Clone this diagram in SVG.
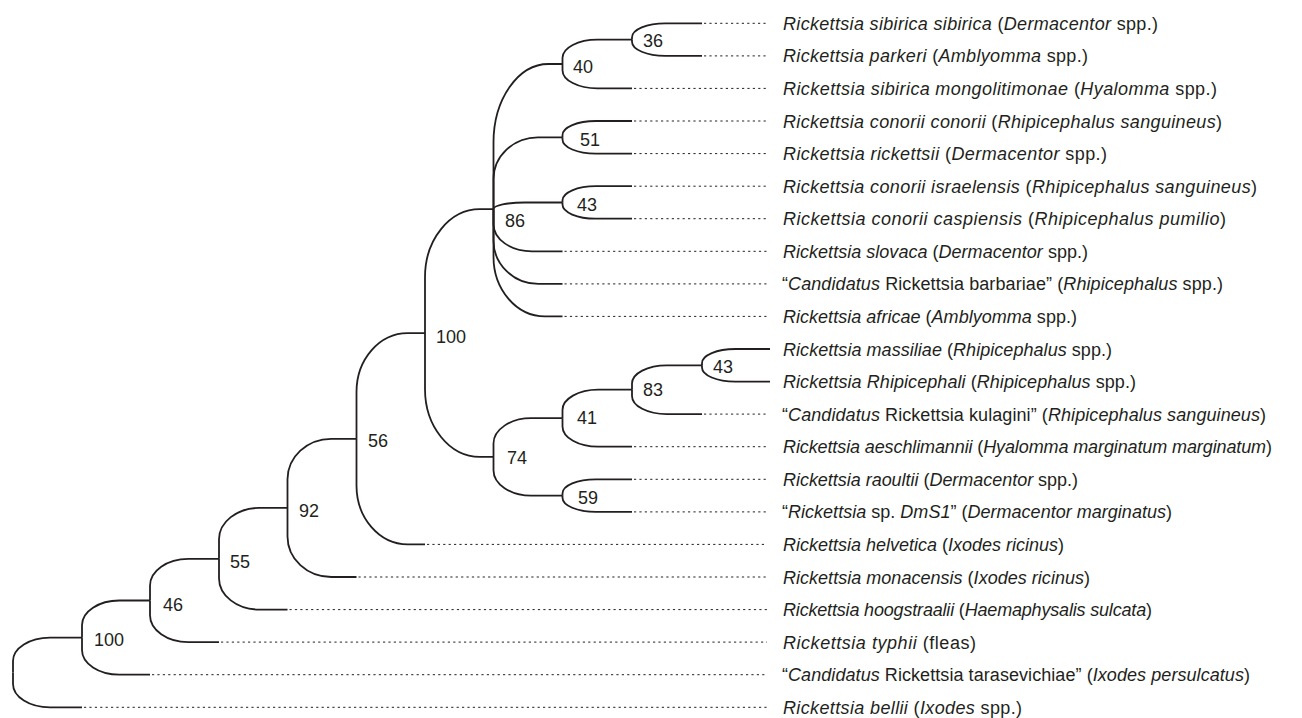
<svg xmlns="http://www.w3.org/2000/svg" width="1302" height="718" viewBox="0 0 1302 718">
<style>
.br{fill:none;stroke:#231f20;stroke-width:1.8;stroke-linecap:butt}
.dt{fill:none;stroke:#231f20;stroke-width:1;stroke-dasharray:2.2 3.2}
text{font-family:"Liberation Sans",Arial,sans-serif;font-size:18px;fill:#231f20}
.i{font-style:italic}
</style>
<rect width="1302" height="718" fill="#ffffff"/>
<g id="connectors">
<path class="br" d="M13 672.5 V661.1 A37 23.5 0 0 1 50 637.6 H82"/>
<path class="br" d="M13 672.5 V683.9 A37 23.4 0 0 0 50 707.3 H82"/>
<path class="br" d="M82 637.6 V625.1 A37.4 24.6 0 0 1 119.4 600.5 H150"/>
<path class="br" d="M82 637.6 V650.1 A37.4 24.6 0 0 0 119.4 674.7 H150"/>
<path class="br" d="M150 600.5 V585.65 A38.3 26.85 0 0 1 188.3 558.8 H219"/>
<path class="br" d="M150 600.5 V615.3 A38.3 26.8 0 0 0 188.3 642.1 H219"/>
<path class="br" d="M219 558.8 V539.35 A40.2 31.45 0 0 1 259.2 507.9 H287.5"/>
<path class="br" d="M219 558.8 V578.2 A40.2 31.4 0 0 0 259.2 609.6 H287.5"/>
<path class="br" d="M287.5 507.9 V479.35 A43.8 40.55 0 0 1 331.3 438.8 H356.5"/>
<path class="br" d="M287.5 507.9 V536.45 A43.8 40.55 0 0 0 331.3 577 H356.5"/>
<path class="br" d="M356.5 438.8 V391.95 A51.1 58.85 0 0 1 407.6 333.1 H425"/>
<path class="br" d="M356.5 438.8 V485.6 A51.1 58.8 0 0 0 407.6 544.4 H425"/>
<path class="br" d="M425 333.1 V277.15 A54.8 67.95 0 0 1 479.8 209.2 H493.5"/>
<path class="br" d="M425 333.1 V389 A54.8 67.9 0 0 0 479.8 456.9 H493.5"/>
<path class="br" d="M493.5 209.2 V142.6 A55 78.6 0 0 1 548.5 64 H562.5"/>
<path class="br" d="M493.5 209.2 V179.25 A44.4 41.95 0 0 1 537.9 137.3 H562.5"/>
<path class="br" d="M493.5 209.2 A31.3 6.7 0 0 1 524.8 202.5 H562.5"/>
<path class="br" d="M493.5 209.2 V224.25 A38.4 27.05 0 0 0 531.9 251.3 H562.5"/>
<path class="br" d="M493.5 209.2 V240.55 A44.9 43.35 0 0 0 538.4 283.9 H562.5"/>
<path class="br" d="M493.5 209.2 V256.8 A51.4 59.6 0 0 0 544.9 316.4 H562.5"/>
<path class="br" d="M562.5 64 V57.8 A34.9 18.2 0 0 1 597.4 39.6 H632"/>
<path class="br" d="M562.5 64 V70.2 A34.9 18.2 0 0 0 597.4 88.4 H632"/>
<path class="br" d="M632 39.6 V37.45 A33.3 14.15 0 0 1 665.3 23.3 H702"/>
<path class="br" d="M632 39.6 V41.75 A33.3 14.15 0 0 0 665.3 55.9 H702"/>
<path class="br" d="M562.5 137.3 V135.15 A33.3 14.15 0 0 1 595.8 121 H632"/>
<path class="br" d="M562.5 137.3 V139.45 A33.3 14.15 0 0 0 595.8 153.6 H632"/>
<path class="br" d="M562.5 202.5 V200.35 A33.3 14.15 0 0 1 595.8 186.2 H632"/>
<path class="br" d="M562.5 202.5 V204.6 A33.2 14.1 0 0 0 595.7 218.7 H632"/>
<path class="br" d="M493.5 456.9 V443.55 A37.7 25.35 0 0 1 531.2 418.2 H562.5"/>
<path class="br" d="M493.5 456.9 V470.25 A37.7 25.35 0 0 0 531.2 495.6 H562.5"/>
<path class="br" d="M562.5 418.2 V409.95 A35.7 20.25 0 0 1 598.2 389.7 H632"/>
<path class="br" d="M562.5 418.2 V426.45 A35.7 20.25 0 0 0 598.2 446.7 H632"/>
<path class="br" d="M632 389.7 V383.5 A34.9 18.2 0 0 1 666.9 365.3 H702"/>
<path class="br" d="M632 389.7 V395.9 A34.9 18.2 0 0 0 666.9 414.1 H702"/>
<path class="br" d="M702 365.3 V363.15 A33.3 14.15 0 0 1 735.3 349 H770"/>
<path class="br" d="M702 365.3 V367.45 A33.3 14.15 0 0 0 735.3 381.6 H770"/>
<path class="br" d="M562.5 495.6 V493.45 A33.3 14.15 0 0 1 595.8 479.3 H632"/>
<path class="br" d="M562.5 495.6 V497.75 A33.3 14.15 0 0 0 595.8 511.9 H632"/>
<path class="dt" d="M704 23.3 H767 M704 55.9 H767 M634 88.4 H767 M634 121 H767 M634 153.6 H767 M634 186.2 H767 M634 218.7 H767 M564.5 251.3 H767 M564.5 283.9 H767 M564.5 316.4 H767 M704 414.1 H767 M634 446.7 H767 M634 479.3 H767 M634 511.9 H767 M427 544.4 H767 M358.5 577 H767 M289.5 609.6 H767 M221 642.1 H767 M152 674.7 H767 M84 707.3 H767"/>
</g>
<g id="leaf-sibirica-sibirica"><text x="783" y="29.8" textLength="375" lengthAdjust="spacing"><tspan class="i">Rickettsia sibirica sibirica</tspan> (<tspan class="i">Dermacentor</tspan> spp.)</text></g>
<g id="leaf-parkeri"><text x="783" y="62.4" textLength="305" lengthAdjust="spacing"><tspan class="i">Rickettsia parkeri</tspan> (<tspan class="i">Amblyomma</tspan> spp.)</text></g>
<g id="leaf-mongolitimonae"><text x="783" y="94.9" textLength="434" lengthAdjust="spacing"><tspan class="i">Rickettsia sibirica</tspan><tspan class="i" dx="5">mongolitimonae</tspan> (<tspan class="i">Hyalomma</tspan> spp.)</text></g>
<g id="leaf-conorii-conorii"><text x="783" y="127.5" textLength="439" lengthAdjust="spacing"><tspan class="i">Rickettsia conorii conorii</tspan> (<tspan class="i">Rhipicephalus sanguineus</tspan>)</text></g>
<g id="leaf-rickettsii"><text x="783" y="160.1" textLength="324" lengthAdjust="spacing"><tspan class="i">Rickettsia rickettsii</tspan> (<tspan class="i">Dermacentor</tspan> spp.)</text></g>
<g id="leaf-israelensis"><text x="783" y="192.7" textLength="474" lengthAdjust="spacing"><tspan class="i">Rickettsia conorii israelensis</tspan> (<tspan class="i">Rhipicephalus sanguineus</tspan>)</text></g>
<g id="leaf-caspiensis"><text x="783" y="225.2" textLength="443" lengthAdjust="spacing"><tspan class="i">Rickettsia conorii caspiensis</tspan> (<tspan class="i">Rhipicephalus pumilio</tspan>)</text></g>
<g id="leaf-slovaca"><text x="783" y="257.8" textLength="305" lengthAdjust="spacing"><tspan class="i">Rickettsia slovaca</tspan> (<tspan class="i">Dermacentor</tspan> spp.)</text></g>
<g id="leaf-barbariae"><text x="782" y="290.4" textLength="441" lengthAdjust="spacing">“<tspan class="i">Candidatus</tspan> Rickettsia barbariae” (<tspan class="i">Rhipicephalus</tspan> spp.)</text></g>
<g id="leaf-africae"><text x="783" y="322.9" textLength="294" lengthAdjust="spacing"><tspan class="i">Rickettsia africae</tspan> (<tspan class="i">Amblyomma</tspan> spp.)</text></g>
<g id="leaf-massiliae"><text x="783" y="355.5" textLength="329" lengthAdjust="spacing"><tspan class="i">Rickettsia massiliae</tspan> (<tspan class="i">Rhipicephalus</tspan> spp.)</text></g>
<g id="leaf-rhipicephali"><text x="783" y="388.1" textLength="353" lengthAdjust="spacing"><tspan class="i">Rickettsia Rhipicephali</tspan> (<tspan class="i">Rhipicephalus</tspan> spp.)</text></g>
<g id="leaf-kulagini"><text x="782" y="420.6" textLength="484" lengthAdjust="spacing">“<tspan class="i">Candidatus</tspan> Rickettsia kulagini” (<tspan class="i">Rhipicephalus sanguineus</tspan>)</text></g>
<g id="leaf-aeschlimannii"><text x="783" y="453.2" textLength="489" lengthAdjust="spacing"><tspan class="i">Rickettsia aeschlimannii</tspan> (<tspan class="i">Hyalomma marginatum marginatum</tspan>)</text></g>
<g id="leaf-raoultii"><text x="783" y="485.8" textLength="295" lengthAdjust="spacing"><tspan class="i">Rickettsia raoultii</tspan> (<tspan class="i">Dermacentor</tspan> spp.)</text></g>
<g id="leaf-dms1"><text x="782" y="518.4" textLength="390" lengthAdjust="spacing">“<tspan class="i">Rickettsia</tspan> sp. <tspan class="i">DmS1</tspan>” (<tspan class="i">Dermacentor marginatus</tspan>)</text></g>
<g id="leaf-helvetica"><text x="783" y="550.9" textLength="281" lengthAdjust="spacing"><tspan class="i">Rickettsia helvetica</tspan> (<tspan class="i">Ixodes ricinus</tspan>)</text></g>
<g id="leaf-monacensis"><text x="783" y="583.5" textLength="307" lengthAdjust="spacing"><tspan class="i">Rickettsia monacensis</tspan> (<tspan class="i">Ixodes ricinus</tspan>)</text></g>
<g id="leaf-hoogstraalii"><text x="783" y="616.1" textLength="369" lengthAdjust="spacing"><tspan class="i">Rickettsia hoogstraalii</tspan> (<tspan class="i">Haemaphysalis sulcata</tspan>)</text></g>
<g id="leaf-typhii"><text x="783" y="648.6" textLength="193" lengthAdjust="spacing"><tspan class="i">Rickettsia typhii</tspan> (fleas)</text></g>
<g id="leaf-tarasevichiae"><text x="782" y="681.2" textLength="468" lengthAdjust="spacing">“<tspan class="i">Candidatus</tspan> Rickettsia tarasevichiae” (<tspan class="i">Ixodes persulcatus</tspan>)</text></g>
<g id="leaf-bellii"><text x="783" y="713.8" textLength="239" lengthAdjust="spacing"><tspan class="i">Rickettsia bellii</tspan> (<tspan class="i">Ixodes</tspan> spp.)</text></g>
<g id="node-36"><text x="643" y="46.7">36</text></g>
<g id="node-40"><text x="573" y="73.3">40</text></g>
<g id="node-51"><text x="580" y="145.7">51</text></g>
<g id="node-43a"><text x="577" y="210.7">43</text></g>
<g id="node-86"><text x="505" y="226.7">86</text></g>
<g id="node-100a"><text x="436" y="342.5">100</text></g>
<g id="node-43b"><text x="713" y="372.7">43</text></g>
<g id="node-83"><text x="643" y="395.7">83</text></g>
<g id="node-41"><text x="577" y="424.3">41</text></g>
<g id="node-74"><text x="507" y="464">74</text></g>
<g id="node-59"><text x="578" y="504.3">59</text></g>
<g id="node-56"><text x="368" y="447.3">56</text></g>
<g id="node-92"><text x="299" y="517.3">92</text></g>
<g id="node-55"><text x="230" y="568.3">55</text></g>
<g id="node-46"><text x="163" y="610.7">46</text></g>
<g id="node-100b"><text x="94" y="646">100</text></g>
</svg>
